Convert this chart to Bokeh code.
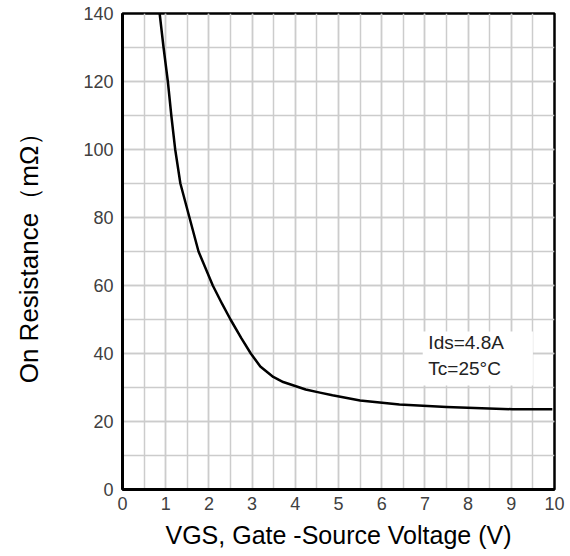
from bokeh.plotting import figure
from bokeh.models import Range1d, SingleIntervalTicker, Label, BoxAnnotation
from bokeh.embed import file_html
from bokeh.resources import INLINE

# Data
vgs = [0.86, 0.95, 1.05, 1.13, 1.22, 1.34, 1.55, 1.76, 2.09, 2.31, 2.50,
       2.75, 2.97, 3.19, 3.49, 3.72, 4.24, 4.57, 4.86, 5.50, 6.41, 7.50,
       9.03, 9.95]
rds_on = [140, 130, 120, 110, 100, 90, 80, 70, 60, 54.5, 50,
          44.5, 40, 36.2, 33.1, 31.6, 29.4, 28.5, 27.7, 26.2, 25.0, 24.3,
          23.6, 23.6]

x_label = "VGS, Gate -Source Voltage (V)"
y_label = "On Resistance（mΩ）"
note_1 = "Ids=4.8A"
note_2 = "Tc=25°C"

FONT = "Liberation Sans"

p = figure(width=566, height=552, output_backend="svg", toolbar_location=None,
           x_range=Range1d(0, 10), y_range=Range1d(0, 140),
           min_border_left=122, min_border_right=12, min_border_top=13,
           min_border_bottom=63)

p.xaxis.ticker = SingleIntervalTicker(interval=1, num_minor_ticks=2)
p.yaxis.ticker = SingleIntervalTicker(interval=20, num_minor_ticks=2)

for g in (p.xgrid, p.ygrid):
    g.grid_line_color = "#cccccc"
    g.grid_line_width = 1.5
    g.minor_grid_line_color = "#cccccc"
    g.minor_grid_line_width = 1.5

for ax in (p.xaxis, p.yaxis):
    ax.axis_line_color = "black"
    ax.axis_line_width = 3
    ax.major_tick_line_color = None
    ax.minor_tick_line_color = None
    ax.major_tick_out = 0
    ax.major_label_text_font = FONT
    ax.major_label_text_font_size = "18px"
    ax.major_label_text_color = "#404040"
    ax.axis_label_text_font = FONT
    ax.axis_label_text_font_style = "normal"
    ax.axis_label_text_color = "black"

p.xaxis.axis_label = x_label
p.xaxis.axis_label_text_font_size = "25px"
p.xaxis.major_label_standoff = 3
p.xaxis.axis_label_standoff = 8

p.yaxis.axis_label = y_label
p.yaxis.axis_label_text_font_size = "26px"
p.yaxis.major_label_standoff = 5
p.yaxis.axis_label_standoff = 36

p.outline_line_color = "black"
p.outline_line_width = 2.5
p.background_fill_color = "white"
p.border_fill_color = "white"

p.line(vgs, rds_on, line_color="black", line_width=2.5, line_join="round")

p.add_layout(BoxAnnotation(left=6.95, right=9.5, bottom=30.6, top=46.5,
                           fill_color="white", fill_alpha=1.0, line_color=None))
p.add_layout(Label(x=7.08, y=43.3, text=note_1, text_font=FONT, text_font_size="19px",
                   text_color="#222222", text_baseline="middle"))
p.add_layout(Label(x=7.08, y=35.7, text=note_2, text_font=FONT, text_font_size="19px",
                   text_color="#222222", text_baseline="middle"))

open("out.html", "w").write(file_html(p, INLINE))
